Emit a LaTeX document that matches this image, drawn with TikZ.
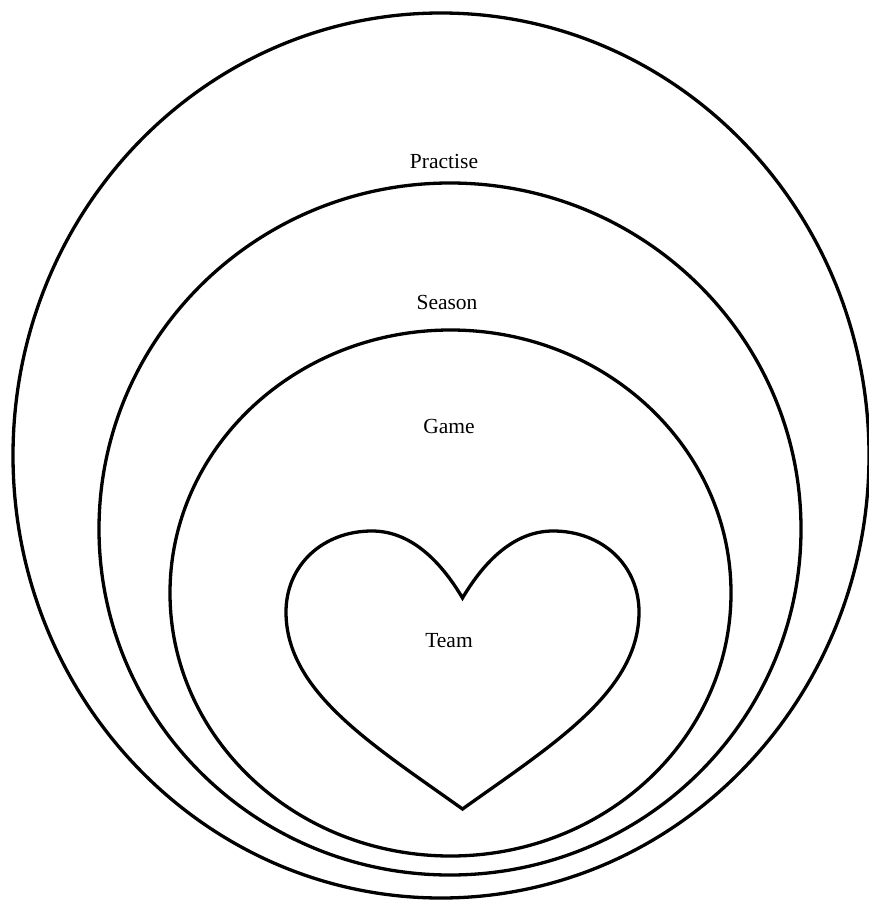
\documentclass[tikz,border=0pt]{standalone}
\usepackage{fontspec}
\setmainfont{Liberation Serif}
\begin{document}
\begin{tikzpicture}[x=1pt,y=-1pt,
  ring/.style={draw=black,line width=3.3pt},
  lbl/.style={font=\fontsize{21.5}{26}\selectfont,anchor=base,inner sep=0pt}]
\useasboundingbox (0,0) rectangle (868,901);
% rings
\draw[ring] (441,455.5) ellipse [x radius=428,y radius=442.5];
\draw[ring] (450,529) ellipse [x radius=351,y radius=346];
\draw[ring] (450.5,593) ellipse [x radius=280.5,y radius=263];
% heart
\draw[ring,line join=miter] (462.5,598)
  .. controls (485,560) and (515,531) .. (553,531)
  .. controls (602,531) and (639,565) .. (639,612)
  .. controls (639,692) and (552,745) .. (462.5,809)
  .. controls (373,745) and (286,692) .. (286,612)
  .. controls (286,565) and (323,531) .. (372,531)
  .. controls (410,531) and (440,560) .. (462.5,598) -- cycle;
% labels
\node[lbl] (practise) at (444,169) {Practise};
\node[lbl] (season) at (447,309) {Season};
\node[lbl] (game) at (449,433) {Game};
\node[lbl] (team) at (449,647) {Team};
\end{tikzpicture}
\end{document}
